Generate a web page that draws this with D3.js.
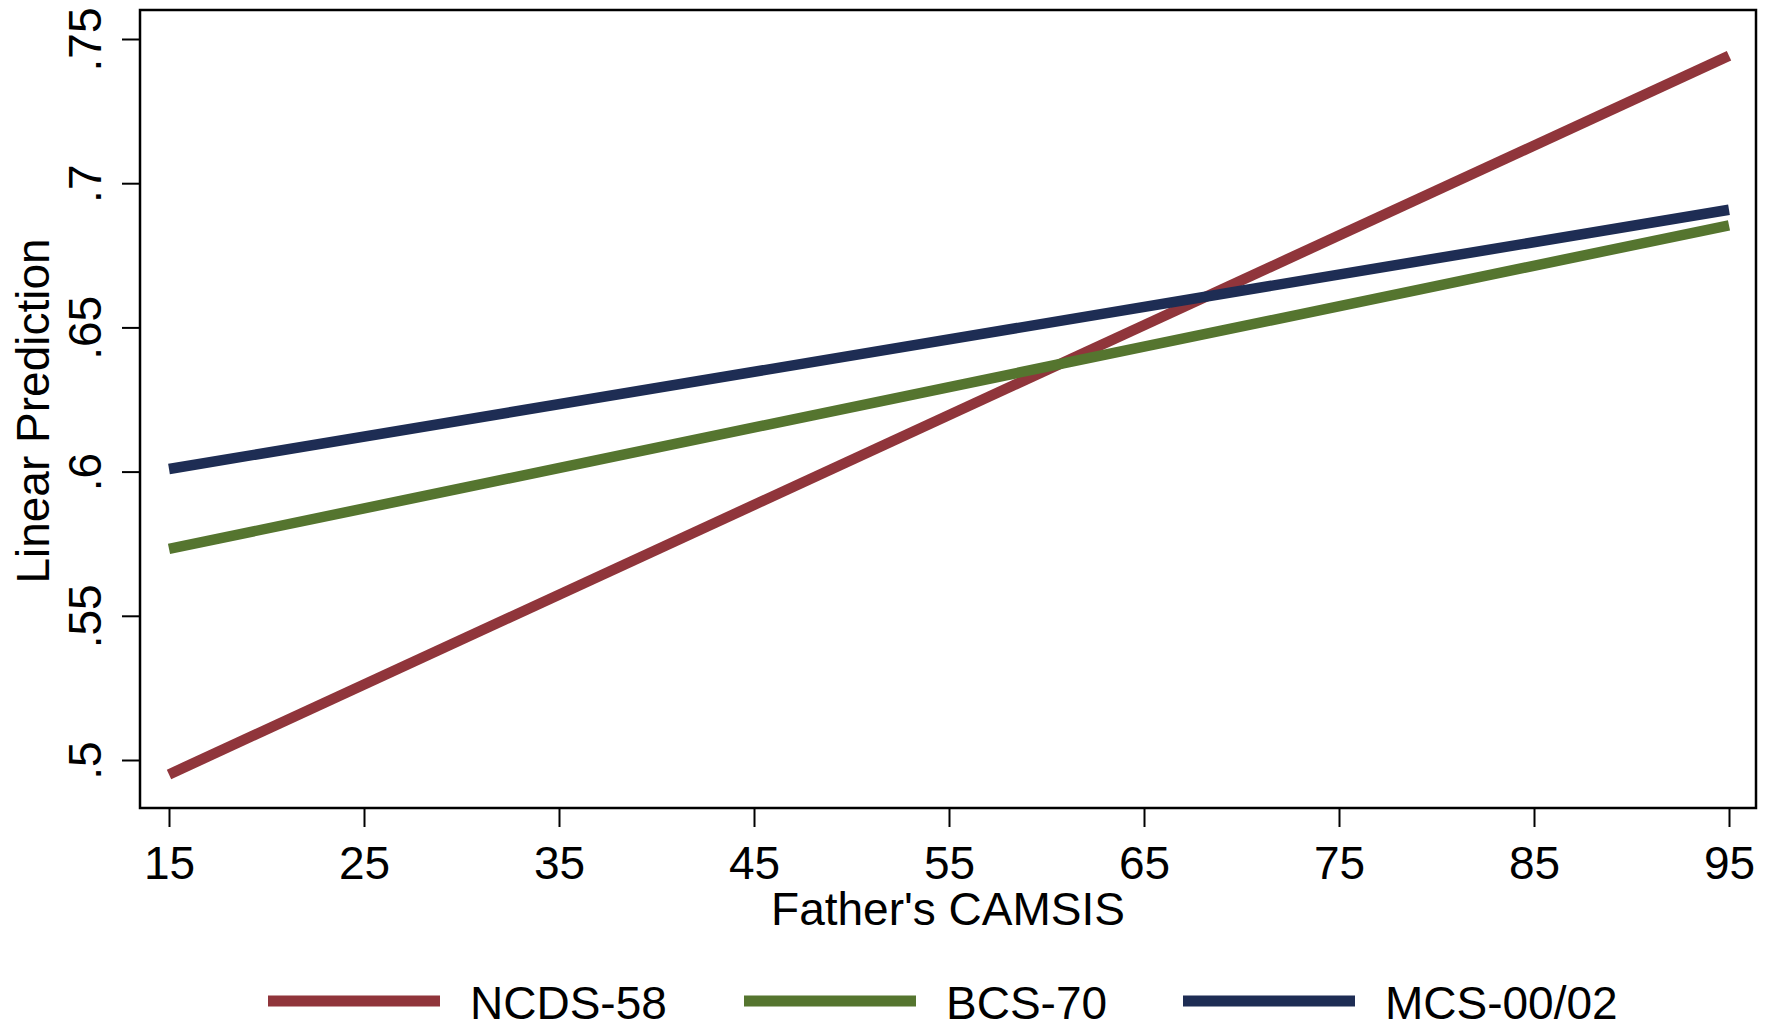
<!DOCTYPE html>
<html>
<head>
<meta charset="utf-8">
<script src="https://cdn.jsdelivr.net/npm/d3@7"></script>
<style>
  html, body { margin: 0; padding: 0; background: #ffffff; }
  svg { display: block; font-family: "Liberation Sans", Arial, Helvetica, sans-serif; }
</style>
</head>
<body>
<svg id="chart" width="1773" height="1029"></svg>
<script>
// ---- data ----
const camsis = [15, 95];
const ncds58 = [0.495, 0.7442];
const bcs70 = [0.5732, 0.6854];
const mcs0002 = [0.6009, 0.6908];
const seriesNames = ["NCDS-58", "BCS-70", "MCS-00/02"];
const seriesColors = ["#90353b", "#55752f", "#1e2d54"];
const xTicks = [15, 25, 35, 45, 55, 65, 75, 85, 95];
const yTicks = [0.5, 0.55, 0.6, 0.65, 0.7, 0.75];
const yTickLabels = [".5", ".55", ".6", ".65", ".7", ".75"];
const xTitle = "Father's CAMSIS";
const yTitle = "Linear Prediction";

const series = [ncds58, bcs70, mcs0002];

// ---- layout ----
const frame = { left: 140, right: 1756, top: 10, bottom: 808 };
const fontSize = 46;

const svg = d3.select("#chart");
svg.append("rect").attr("width", 1773).attr("height", 1029).attr("fill", "#fff");

const x = d3.scaleLinear().domain([15, 95]).range([169, 1729]);
const y = d3.scaleLinear().domain([0.5, 0.75]).range([760, 39]);

// frame
svg.append("rect")
  .attr("x", frame.left).attr("y", frame.top)
  .attr("width", frame.right - frame.left)
  .attr("height", frame.bottom - frame.top)
  .attr("fill", "none").attr("stroke", "#000").attr("stroke-width", 2.5);

// x axis
const xAxis = d3.axisBottom(x).tickValues(xTicks).tickSize(19).tickPadding(19).tickFormat(d3.format("d"));
const gx = svg.append("g").attr("transform", `translate(0,${frame.bottom})`).call(xAxis);
gx.select(".domain").remove();
gx.selectAll(".tick line").attr("stroke", "#000").attr("stroke-width", 2);
gx.selectAll(".tick text")
  .attr("font-size", fontSize).attr("fill", "#000")
  .attr("dy", null).attr("y", 879 - frame.bottom)
  .attr("dominant-baseline", "alphabetic");

// y axis
const yAxis = d3.axisLeft(y).tickValues(yTicks).tickSize(18)
  .tickFormat((d, i) => yTickLabels[i]);
const gy = svg.append("g").attr("transform", `translate(${frame.left},0)`).call(yAxis);
gy.select(".domain").remove();
gy.selectAll(".tick line").attr("stroke", "#000").attr("stroke-width", 2);
gy.selectAll(".tick text")
  .attr("font-size", fontSize).attr("fill", "#000")
  .attr("x", null).attr("dy", null)
  .attr("text-anchor", "middle")
  .attr("transform", `translate(${101 - frame.left},0) rotate(-90)`);

// axis titles
svg.append("text")
  .attr("x", (frame.left + frame.right) / 2).attr("y", 925)
  .attr("text-anchor", "middle").attr("font-size", fontSize).attr("fill", "#000")
  .text(xTitle);
svg.append("text")
  .attr("transform", `translate(49,411) rotate(-90)`)
  .attr("text-anchor", "middle").attr("font-size", fontSize).attr("fill", "#000")
  .text(yTitle);

// lines
const line = d3.line().x(d => x(d[0])).y(d => y(d[1]));
series.forEach((vals, i) => {
  svg.append("path")
    .datum(camsis.map((c, j) => [c, vals[j]]))
    .attr("d", line)
    .attr("fill", "none")
    .attr("stroke", seriesColors[i])
    .attr("stroke-width", 10.5)
    .attr("stroke-linecap", "butt");
});

// legend
const legendLineX = [268, 744, 1183];
const legendLineW = 172;
const legendY = 1001;
seriesNames.forEach((name, i) => {
  svg.append("line")
    .attr("x1", legendLineX[i]).attr("x2", legendLineX[i] + legendLineW)
    .attr("y1", legendY).attr("y2", legendY)
    .attr("stroke", seriesColors[i]).attr("stroke-width", 11);
  svg.append("text")
    .attr("x", legendLineX[i] + legendLineW + 30).attr("y", 1019)
    .attr("font-size", fontSize).attr("fill", "#000")
    .text(name);
});
</script>
</body>
</html>
